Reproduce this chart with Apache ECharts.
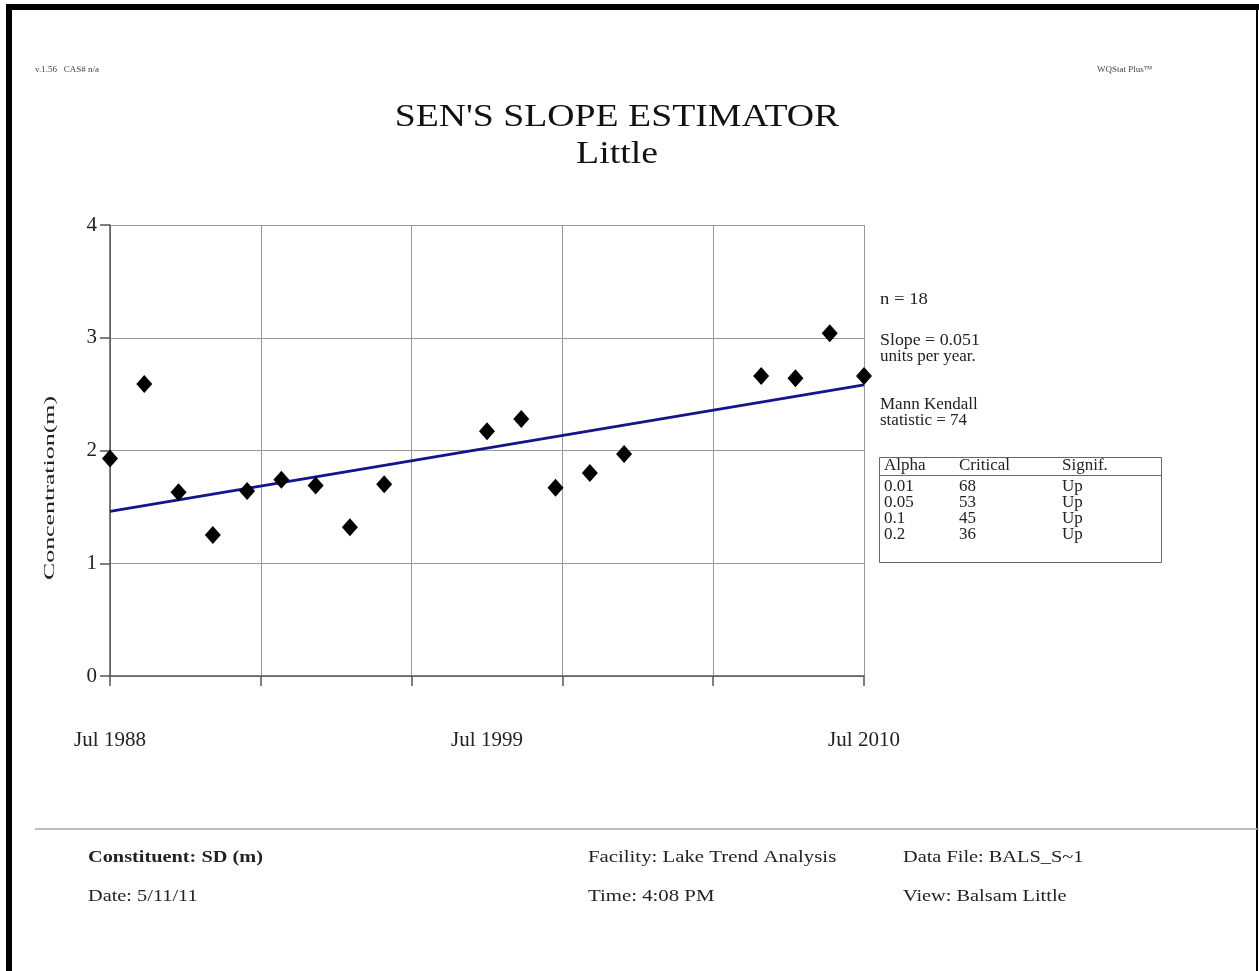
<!DOCTYPE html>
<html>
<head>
<meta charset="utf-8">
<title>Sen's Slope Estimator</title>
<script src="https://cdn.jsdelivr.net/npm/echarts@6/dist/echarts.min.js"></script>
<style>
  html, body { margin: 0; padding: 0; background: #fff; }
  #chart { width: 1259px; height: 971px; }
</style>
</head>
<body>
<div id="chart"></div>
<script>
// sampling dates (decimal years, July of each year) and concentrations
var sampleYears = [1988.5, 1989.5, 1990.5, 1991.5, 1992.5, 1993.5, 1994.5, 1995.5, 1996.5,
  1999.5, 2000.5, 2001.5, 2002.5, 2003.5, 2007.5, 2008.5, 2009.5, 2010.5];
var concentration = [1.93, 2.59, 1.63, 1.25, 1.64, 1.74, 1.69, 1.32, 1.70,
  2.17, 2.28, 1.67, 1.80, 1.97, 2.66, 2.64, 3.04, 2.66];

var startYear = 1988.5;
var endYear = 2010.5;
var xLabels = { 0: 'Jul 1988', 11: 'Jul 1999', 22: 'Jul 2010' };

// sen's slope line
var trendStart = 1.46;
var slope = 0.051;

var alphaRows = [
  ['0.01', '68', 'Up'],
  ['0.05', '53', 'Up'],
  ['0.1', '45', 'Up'],
  ['0.2', '36', 'Up']
];

var serif = "'Liberation Serif', 'Times New Roman', serif";

var chart = echarts.init(document.getElementById('chart'));

var points = sampleYears.map(function (y, i) {
  return [y - startYear, concentration[i]];
});
var span = endYear - startYear;

// 文本工具
function txt(x, y, s, size, opts) {
  opts = opts || {};
  return {
    type: 'text', x: x, y: y, z: 10,
    rotation: opts.rotation || 0,
    scaleX: opts.scaleX || 1,
    style: {
      text: s, fill: opts.fill || '#222',
      font: (opts.bold ? 'bold ' : '') + size + 'px ' + serif,
      textAlign: opts.align || 'left', textVerticalAlign: 'middle'
    }
  };
}

var graphics = [
  // page frame
  { type: 'rect', shape: { x: 6, y: 4, width: 6, height: 967 }, style: { fill: '#000' } },
  { type: 'rect', shape: { x: 6, y: 4, width: 1253, height: 6 }, style: { fill: '#000' } },
  { type: 'rect', shape: { x: 1256, y: 4, width: 2, height: 967 }, style: { fill: '#000' } },
  // footer rule
  { type: 'line', shape: { x1: 35, y1: 829, x2: 1259, y2: 829 }, style: { stroke: '#aaa', lineWidth: 1.5 } },
  // table box
  { type: 'rect', shape: { x: 879.5, y: 457.5, width: 282, height: 105 }, style: { fill: 'none', stroke: '#666', lineWidth: 1 } },
  { type: 'line', shape: { x1: 879.5, y1: 475.5, x2: 1161.5, y2: 475.5 }, style: { stroke: '#666', lineWidth: 1 } }
];

var texts = [
  txt(35, 70, 'v.1.56   CAS# n/a', 9, { fill: '#444' }),
  txt(1097, 70, 'WQStat Plus\u2122', 9, { fill: '#444' }),
  txt(617, 118, "SEN'S SLOPE ESTIMATOR", 32, { align: 'center', scaleX: 1.18, fill: '#111' }),
  txt(617, 155, 'Little', 32, { align: 'center', scaleX: 1.18, fill: '#111' }),
  txt(50, 488, 'Concentration(m)', 14, { align: 'center', rotation: Math.PI / 2, scaleX: 1.85 }),
  txt(880, 300, 'n = 18', 17, { scaleX: 1.1 }),
  txt(880, 341, 'Slope = 0.051', 17, { scaleX: 1.05 }),
  txt(880, 357, 'units per year.', 17),
  txt(880, 405, 'Mann Kendall', 17),
  txt(880, 421, 'statistic = 74', 17),
  txt(884, 466, 'Alpha', 17),
  txt(959, 466, 'Critical', 17),
  txt(1062, 466, 'Signif.', 17),
  // footer
  txt(88, 858, 'Constituent: SD (m)', 16, { bold: true, scaleX: 1.27 }),
  txt(88, 897, 'Date: 5/11/11', 16, { scaleX: 1.27 }),
  txt(588, 858, 'Facility: Lake Trend Analysis', 16, { scaleX: 1.3 }),
  txt(588, 897, 'Time: 4:08 PM', 16, { scaleX: 1.3 }),
  txt(903, 858, 'Data File: BALS_S~1', 16, { scaleX: 1.27 }),
  txt(903, 897, 'View: Balsam Little', 16, { scaleX: 1.27 })
];

//表格行
alphaRows.forEach(function (row, i) {
  var y = 487 + i * 16;
  texts.push(txt(884, y, row[0], 17));
  texts.push(txt(959, y, row[1], 17));
  texts.push(txt(1062, y, row[2], 17));
});

var option = {
  backgroundColor: '#fff',
  animation: false,
  grid: { left: 110, top: 225, width: 754, height: 451 },
  xAxis: [
    {
      type: 'value', min: 0, max: span, interval: span / 5,
      axisLine: { show: true, lineStyle: { color: '#555', width: 1.5 } },
      axisTick: { show: true, length: 10, lineStyle: { color: '#555', width: 1.5 } },
      axisLabel: { show: false },
      splitLine: { show: true, lineStyle: { color: '#999', width: 1 } }
    },
    {
      type: 'value', min: 0, max: span, interval: span / 2, position: 'bottom',
      axisLine: { show: false }, axisTick: { show: false }, splitLine: { show: false },
      axisLabel: {
        show: true, margin: 54, color: '#222', fontFamily: serif, fontSize: 21,
        formatter: function (v) { return xLabels[Math.round(v)] || ''; }
      }
    }
  ],
  yAxis: {
    type: 'value', min: 0, max: 4, interval: 1,
    axisLine: { show: true, lineStyle: { color: '#555', width: 1.5 } },
    axisTick: { show: true, length: 10, lineStyle: { color: '#555', width: 1.5 } },
    axisLabel: { color: '#222', fontFamily: serif, fontSize: 21, margin: 13 },
    splitLine: { show: true, lineStyle: { color: '#999', width: 1 } }
  },
  series: [
    {
      type: 'line', xAxisIndex: 0, symbol: 'none', z: 2,
      lineStyle: { color: '#14148c', width: 3 },
      data: [[0, trendStart], [span, trendStart + slope * span]]
    },
    {
      type: 'scatter', xAxisIndex: 0, symbol: 'diamond', symbolSize: [16, 18], z: 3,
      itemStyle: { color: '#000', opacity: 1 },
      data: points
    }
  ],
  graphic: graphics.concat(texts)
};
chart.setOption(option);
</script>
</body>
</html>
